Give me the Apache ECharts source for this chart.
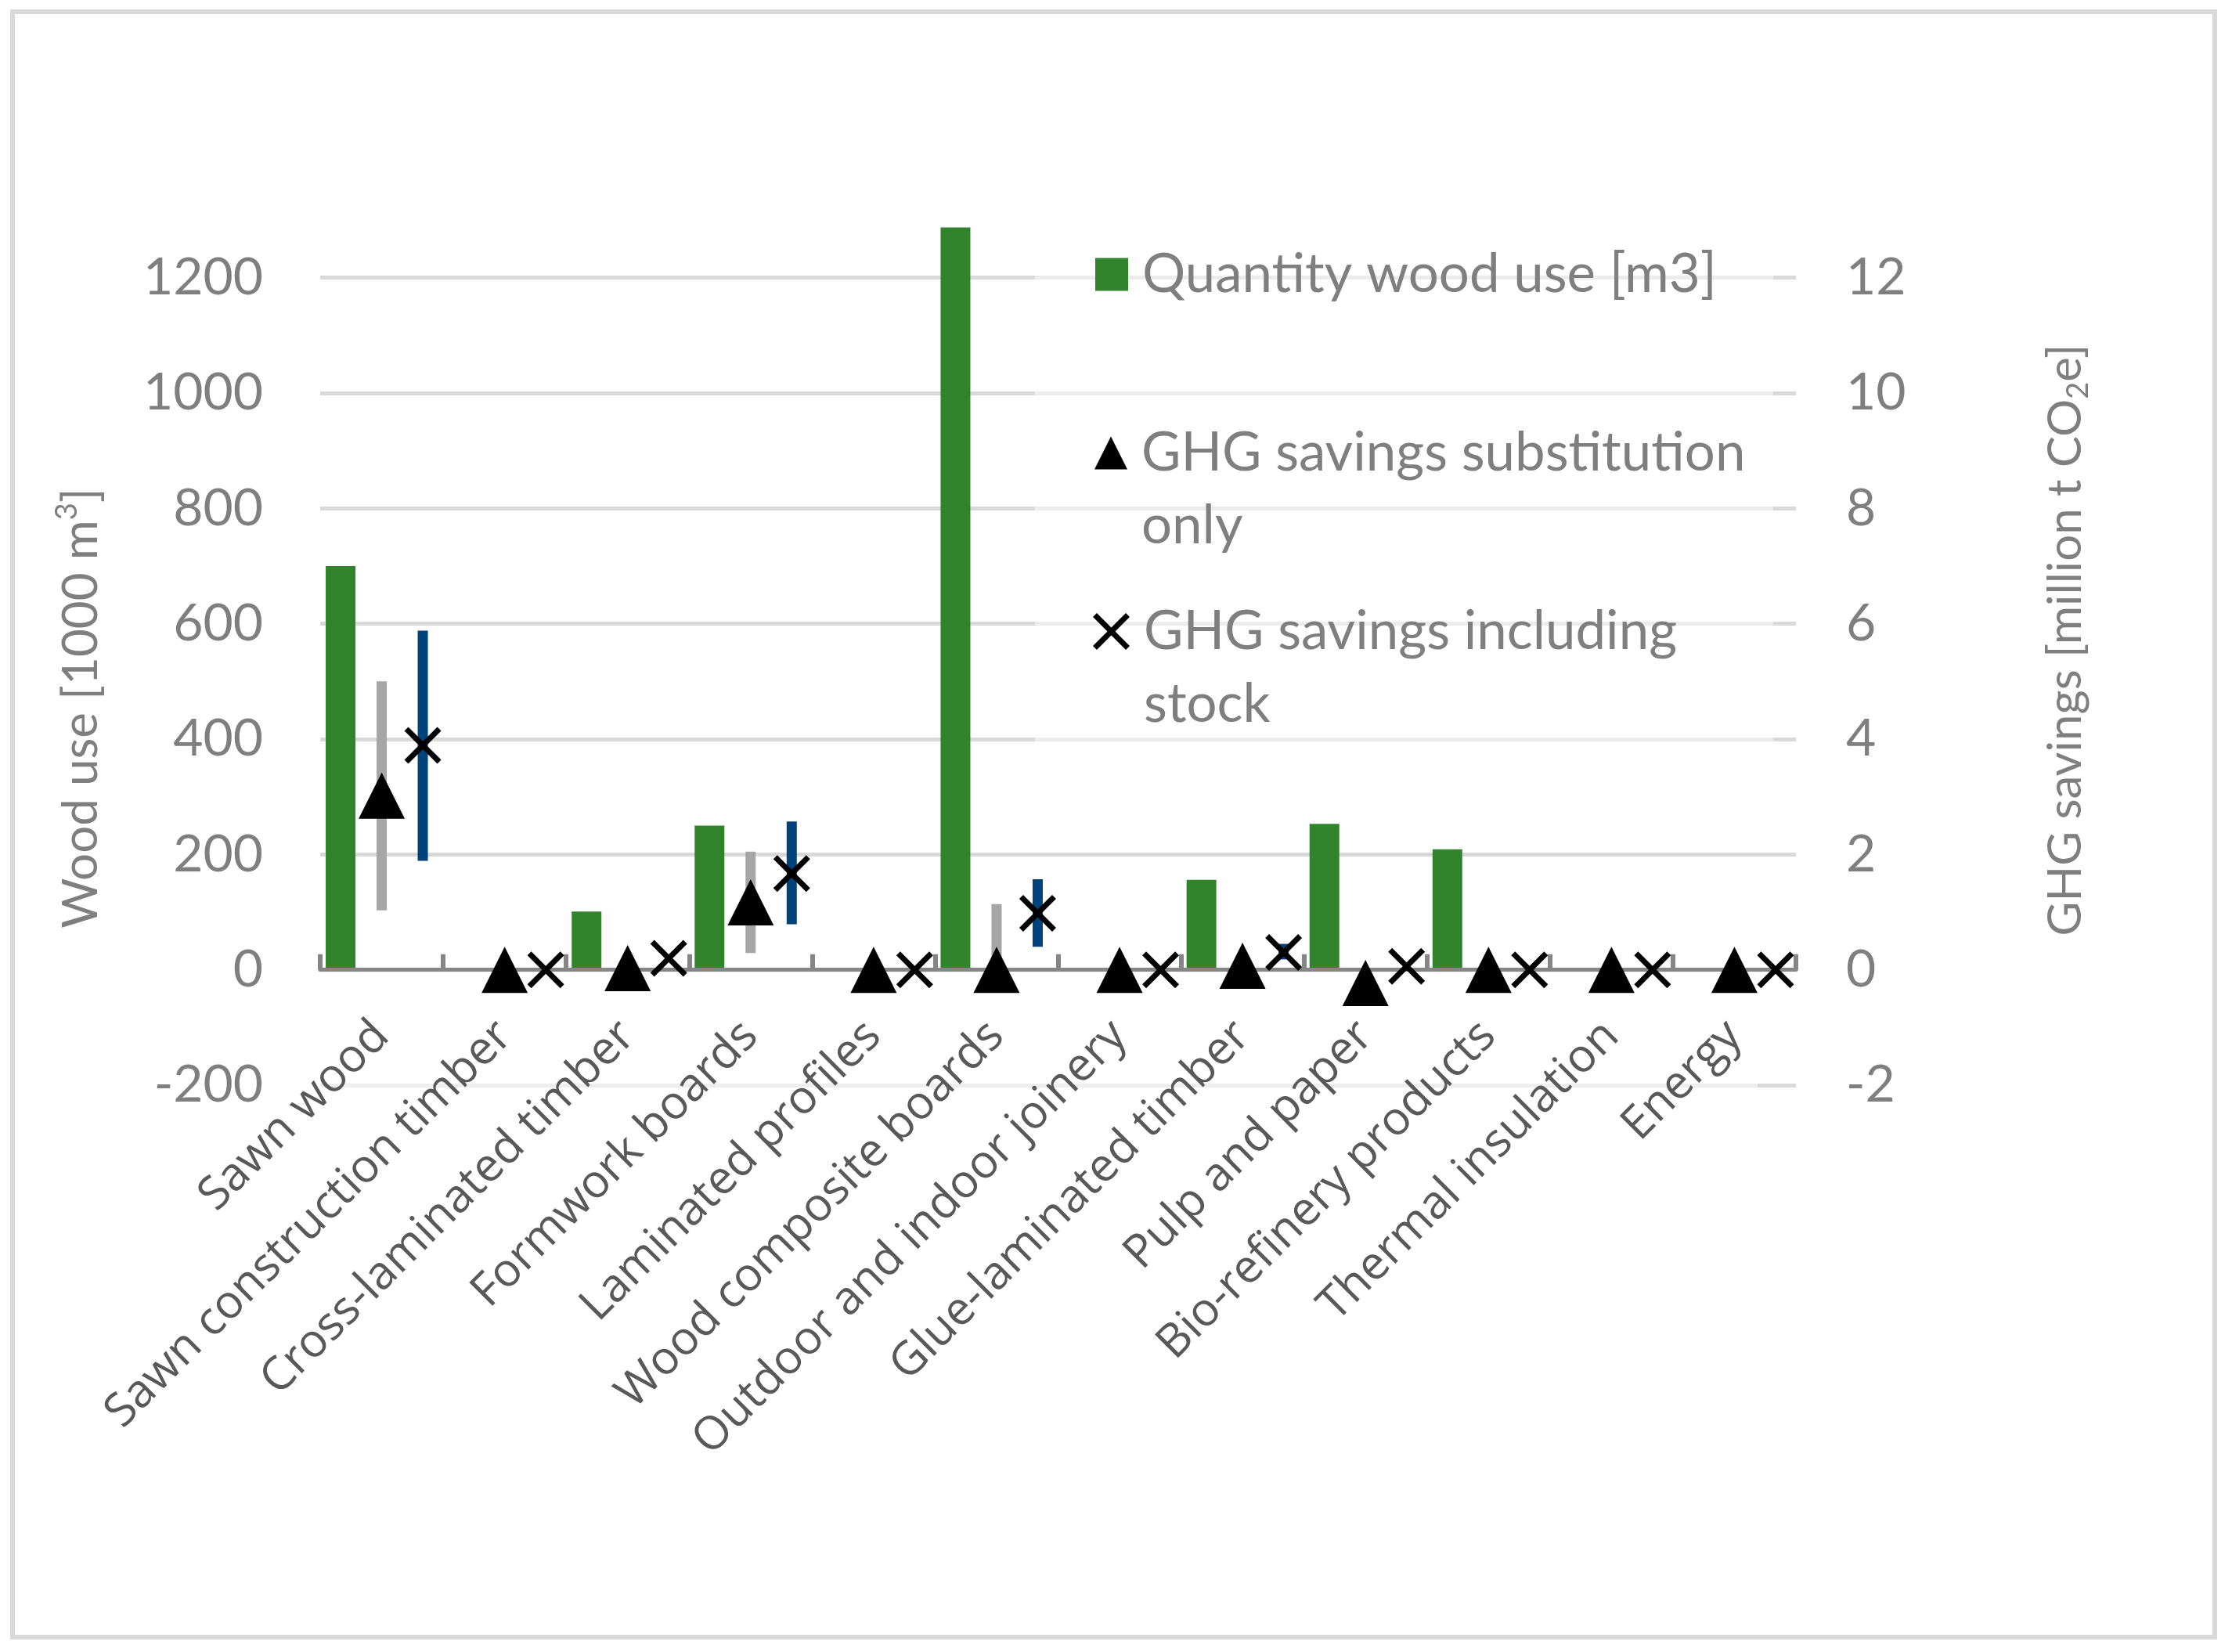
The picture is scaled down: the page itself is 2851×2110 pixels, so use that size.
<!DOCTYPE html>
<html>
<head>
<meta charset="utf-8">
<script src="https://cdn.jsdelivr.net/npm/echarts@6/dist/echarts.min.js"></script>
<style>
html,body{margin:0;padding:0;background:#ffffff;}
#chart{width:2851px;height:2110px;}
</style>
</head>
<body>
<div id="chart"></div>
<script>
// ---------------- data ----------------
const categories = ['Sawn wood', 'Sawn construction timber', 'Cross-laminated timber', 'Formwork boards',
  'Laminated profiles', 'Wood composite boards', 'Outdoor and indoor joinery', 'Glue-laminated timber',
  'Pulp and paper', 'Bio-refinery products', 'Thermal insulation', 'Energy'];
const woodUse = [700, null, 101, 250, null, 1287, null, 156, 253, 209, null, null];
const ghgSubstitution = [3.02, 0, 0.03, 1.17, 0, 0, 0, 0.07, -0.23, 0, 0, 0];
const ghgIncludingStock = [3.89, 0, 0.2, 1.67, 0, 0.98, 0, 0.3, 0.06, 0, 0, 0];
const substitutionLow  = [1.03, null, null, 0.29, null, 0, null, null, null, null, null, null];
const substitutionHigh = [5.0, null, null, 2.05, null, 1.14, null, null, null, null, null, null];
const stockLow  = [1.89, null, null, 0.79, null, 0.40, null, 0.18, null, null, null, null];
const stockHigh = [5.88, null, null, 2.57, null, 1.57, null, 0.45, null, null, null, null];
const woodAxis = {min: -200, max: 1300, interval: 200};
const ghgAxis = {min: -2, max: 13, interval: 2};
const seriesNames = ['Quantity wood use [m3]', 'GHG savings substitution only', 'GHG savings including stock'];
// legend labels; the leading empty line keeps the marker level with the first text line
const legendLabels = ['Quantity wood use [m3]', '\nGHG savings substitution\nonly', '\nGHG savings including\nstock'];

// ---------------- style constants ----------------
const BAR_W = 38;          // px width of a column
const SLOT = 52.5;         // px distance between column / triangle / cross slots
const ERR_W = 13;          // px width of error bars
const GREEN = '#31842b';
const X_PATH = 'path://M0,10.6L10.6,0L50,39.4L89.4,0L100,10.6L60.6,50L100,89.4L89.4,100L50,60.6L10.6,100L0,89.4L39.4,50Z';
const GRAY_TXT = '#7f7f7f';

function errorData(lo, hi) {
  const out = [];
  lo.forEach((v, i) => { if (v != null && hi[i] != null) out.push([i, v, hi[i]]); });
  return out;
}
function errorBarRenderer(offset, color) {
  return function (params, api) {
    const i = api.value(0);
    const a = api.coord([i, api.value(1)]);
    const b = api.coord([i, api.value(2)]);
    const x = a[0] + offset;
    return {
      type: 'rect',
      shape: {x: x - ERR_W / 2, y: Math.min(a[1], b[1]), width: ERR_W, height: Math.abs(a[1] - b[1])},
      style: {fill: color}
    };
  };
}

const barGap = ((SLOT - BAR_W) / BAR_W * 100).toFixed(2) + '%';
const emptySlot = categories.map(() => null);

const legendBase = {
  orient: 'vertical', padding: 0, itemGap: 0, selectedMode: false,
  itemWidth: 42, itemHeight: 42,
  formatter: name => legendLabels[seriesNames.indexOf(name)]
};
const legendText = {color: GRAY_TXT, fontFamily: 'Lato', fontSize: 69, lineHeight: 93, padding: [0, 0, 0, 13]};

const chart = echarts.init(document.getElementById('chart'), null, {renderer: 'canvas'});
chart.setOption({
  animation: false,
  backgroundColor: '#ffffff',
  textStyle: {fontFamily: 'Lato'},
  grid: {left: 409, right: 557, top: 281, bottom: 724, containLabel: false, outerBoundsMode: 'none'},
  graphic: [
    {type: 'rect', z: 0, silent: true, shape: {x: 16, y: 15, width: 2813, height: 2076},
      style: {fill: 'none', stroke: '#d9d9d9', lineWidth: 6}},
    {type: 'rect', z: 1, silent: true, shape: {x: 1322, y: 285, width: 943, height: 725},
      style: {fill: 'rgba(255,255,255,0.5)'}},
    {type: 'rect', z: 1, silent: true, shape: {x: 405, y: 1372, width: 1840, height: 30},
      style: {fill: 'rgba(255,255,255,0.55)'}}
  ],
  legend: [
    Object.assign({}, legendBase, {left: 1399, top: 304, data: [{name: seriesNames[0], icon: 'rect'}], textStyle: legendText}),
    Object.assign({}, legendBase, {left: 1398, top: 439, data: [{name: seriesNames[1], icon: 'triangle'}], textStyle: legendText}),
    Object.assign({}, legendBase, {left: 1396, top: 667, itemWidth: 47, itemHeight: 47, data: [{name: seriesNames[2], icon: X_PATH}], textStyle: legendText})
  ],
  xAxis: {
    type: 'category',
    data: categories,
    z: 3,
    boundaryGap: true,
    axisLine: {show: true, onZero: true, lineStyle: {color: '#868686', width: 5}},
    axisTick: {show: true, inside: true, length: 20, lineStyle: {color: '#868686', width: 6}},
    axisLabel: {interval: 0, rotate: 45, margin: -72, color: '#595959', fontFamily: 'Open Sans', fontSize: 59},
    splitLine: {show: false}
  },
  yAxis: [
    {
      type: 'value', position: 'left',
      min: woodAxis.min, max: woodAxis.max, interval: woodAxis.interval,
      axisLine: {show: false}, axisTick: {show: false},
      axisLabel: {color: GRAY_TXT, fontFamily: 'Lato', fontSize: 66, margin: 73, showMaxLabel: false,
        formatter: v => String(v)},
      splitLine: {show: true, showMaxLine: false, lineStyle: {color: '#d9d9d9', width: 5}},
      name: '{t|Wood use [1000 m}{sup|3}{t|]}',
      nameLocation: 'middle', nameRotate: 90, nameGap: 268,
      nameTextStyle: {
        color: GRAY_TXT, padding: [0, 142, 0, 0],
        rich: {
          t: {fontFamily: 'Lato', fontSize: 62, color: GRAY_TXT, lineHeight: 74},
          sup: {fontFamily: 'Lato', fontSize: 38, color: GRAY_TXT, lineHeight: 38, verticalAlign: 'top'}
        }
      }
    },
    {
      type: 'value', position: 'right',
      min: ghgAxis.min, max: ghgAxis.max, interval: ghgAxis.interval,
      axisLine: {show: false}, axisTick: {show: false},
      axisLabel: {color: GRAY_TXT, fontFamily: 'Lato', fontSize: 66, margin: 64, showMaxLabel: false,
        formatter: v => String(v)},
      splitLine: {show: false},
      name: '{t|GHG savings [million t CO}{sub|2}{t|e]}',
      nameLocation: 'middle', nameRotate: 90, nameGap: 310,
      nameTextStyle: {
        color: GRAY_TXT, padding: [0, 0, 0, 32],
        rich: {
          t: {fontFamily: 'Lato', fontSize: 60, color: GRAY_TXT, lineHeight: 70},
          sub: {fontFamily: 'Lato', fontSize: 38, color: GRAY_TXT, lineHeight: 38, verticalAlign: 'bottom'}
        }
      }
    }
  ],
  series: [
    {name: seriesNames[0], type: 'bar', yAxisIndex: 0, data: woodUse, barWidth: BAR_W, barGap: barGap,
      itemStyle: {color: GREEN}, z: 2},
    {name: '_slot_triangle', type: 'bar', yAxisIndex: 0, data: emptySlot, barWidth: BAR_W, barGap: barGap},
    {name: '_slot_cross', type: 'bar', yAxisIndex: 0, data: emptySlot, barWidth: BAR_W, barGap: barGap},
    {name: '_err_substitution', type: 'custom', yAxisIndex: 1, z: 4,
      data: errorData(substitutionLow, substitutionHigh), encode: {x: 0, y: [1, 2]},
      renderItem: errorBarRenderer(0, '#a6a6a6')},
    {name: '_err_stock', type: 'custom', yAxisIndex: 1, z: 4,
      data: errorData(stockLow, stockHigh), encode: {x: 0, y: [1, 2]},
      renderItem: errorBarRenderer(SLOT, '#00427a')},
    {name: seriesNames[1], type: 'scatter', yAxisIndex: 1, z: 5, data: ghgSubstitution,
      symbol: 'triangle', symbolSize: [59, 59], itemStyle: {color: '#000000', opacity: 1}},
    {name: seriesNames[2], type: 'scatter', yAxisIndex: 1, z: 5, data: ghgIncludingStock,
      symbol: X_PATH, symbolSize: [47, 47], symbolOffset: [SLOT, 0], itemStyle: {color: '#000000', opacity: 1}}
  ]
});
</script>
</body>
</html>
